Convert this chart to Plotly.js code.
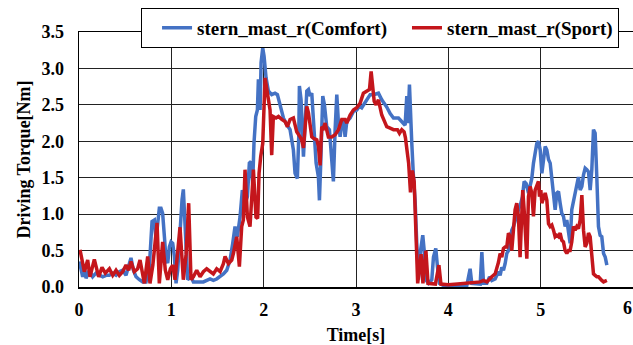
<!DOCTYPE html>
<html>
<head>
<meta charset="utf-8">
<script src="https://cdn.plot.ly/plotly-3.0.1.min.js"></script>
<style>html,body{margin:0;padding:0;background:#fff;}#chart{width:633px;height:345px;}</style>
</head>
<body>
<div id="chart"></div>
<script>
// Time axis ticks
var xTicks = [0, 1, 2, 3, 4, 5, 6];
var yTicks = [0.0, 0.5, 1.0, 1.5, 2.0, 2.5, 3.0, 3.5];
var yTickText = ["0.0", "0.5", "1.0", "1.5", "2.0", "2.5", "3.0", "3.5"];

var comfortName = "stern_mast_r(Comfort)";
var sportName = "stern_mast_r(Sport)";

// stern_mast_r (Comfort) - time [s]
var comfortT = [0.004,0.022,0.040,0.058,0.076,0.112,0.148,0.184,0.220,0.257,0.293,0.329,0.365,0.401,0.437,0.473,0.509,0.538,0.563,0.589,0.618,0.654,0.690,0.726,0.762,0.791,0.816,0.834,0.852,0.870,0.888,0.906,0.925,0.943,0.961,0.979,0.997,1.015,1.033,1.051,1.069,1.094,1.116,1.130,1.145,1.159,1.177,1.213,1.239,1.275,1.347,1.419,1.455,1.491,1.528,1.564,1.600,1.636,1.665,1.690,1.715,1.744,1.769,1.798,1.824,1.845,1.863,1.881,1.895,1.914,1.932,1.943,1.961,1.972,1.990,2.004,2.026,2.051,2.087,2.123,2.149,2.178,2.214,2.250,2.286,2.322,2.340,2.365,2.380,2.387,2.405,2.431,2.449,2.467,2.485,2.503,2.521,2.539,2.568,2.593,2.604,2.618,2.640,2.658,2.683,2.712,2.737,2.755,2.774,2.792,2.810,2.828,2.846,2.864,2.882,2.900,2.936,2.972,3.008,3.037,3.062,3.080,3.117,3.153,3.189,3.243,3.279,3.297,3.333,3.370,3.406,3.460,3.496,3.532,3.550,3.562,3.579,3.593,3.604,3.622,3.640,3.658,3.676,3.700,3.723,3.738,3.760,3.785,3.821,3.839,3.864,3.882,3.904,3.948,4.000,4.100,4.200,4.236,4.254,4.345,4.363,4.381,4.417,4.446,4.471,4.507,4.543,4.561,4.579,4.597,4.615,4.633,4.651,4.669,4.687,4.705,4.723,4.741,4.759,4.785,4.803,4.821,4.843,4.868,4.886,4.904,4.922,4.940,4.958,4.976,4.995,5.013,5.031,5.049,5.067,5.085,5.103,5.121,5.139,5.157,5.175,5.193,5.211,5.229,5.247,5.265,5.283,5.301,5.319,5.337,5.355,5.373,5.391,5.409,5.428,5.446,5.464,5.482,5.500,5.518,5.536,5.554,5.572,5.590,5.608,5.626,5.644,5.662,5.681,5.699,5.717];
// stern_mast_r (Comfort) - driving torque [Nm]
var comfortV = [0.35,0.23,0.14,0.28,0.12,0.23,0.14,0.19,0.16,0.14,0.16,0.16,0.19,0.16,0.21,0.23,0.16,0.28,0.40,0.23,0.14,0.10,0.07,0.07,0.28,0.90,0.92,0.65,0.88,1.08,1.08,1.01,0.69,0.37,0.33,0.55,0.62,0.60,0.42,0.05,0.23,0.78,1.20,1.34,0.92,0.42,0.10,0.14,0.07,0.07,0.07,0.11,0.09,0.11,0.14,0.18,0.23,0.37,0.60,0.83,0.69,0.96,1.33,1.15,1.24,1.70,1.72,1.42,1.97,2.34,2.43,2.85,2.43,3.08,3.28,3.17,2.87,2.69,2.64,2.66,2.64,2.48,2.32,2.23,2.16,1.88,1.56,1.49,2.06,2.76,2.57,1.79,2.25,2.69,2.71,2.62,2.66,2.20,1.70,1.51,1.19,1.70,2.62,2.50,2.20,2.16,1.79,1.45,2.16,2.64,2.25,2.06,2.25,2.30,2.06,2.27,2.32,2.41,2.43,2.48,2.46,2.50,2.57,2.64,2.64,2.66,2.57,2.54,2.47,2.38,2.32,2.32,2.27,2.22,2.62,2.25,2.78,2.20,1.98,1.52,1.19,0.60,0.10,0.51,0.71,0.51,0.09,0.05,0.10,0.41,0.53,0.28,0.05,0.02,0.01,0.01,0.02,0.25,0.05,0.04,0.48,0.05,0.05,0.14,0.09,0.11,0.21,0.16,0.27,0.23,0.32,0.46,0.50,0.64,0.78,0.83,0.92,0.97,1.06,1.15,1.24,1.45,1.42,1.29,1.38,1.49,1.70,1.81,1.97,2.00,1.88,1.56,1.75,1.93,1.88,1.75,1.70,1.47,1.19,1.06,1.29,1.31,1.15,1.01,0.97,0.83,0.92,0.74,0.60,1.06,1.19,1.29,1.42,1.51,1.33,1.38,1.54,1.63,1.61,1.58,1.33,1.61,2.16,2.11,1.51,0.83,0.71,0.69,0.46,0.41,0.30];

// stern_mast_r (Sport) - time [s]
var sportT = [0.011,0.058,0.094,0.119,0.166,0.213,0.249,0.285,0.329,0.365,0.401,0.437,0.473,0.509,0.538,0.563,0.599,0.635,0.661,0.690,0.708,0.744,0.769,0.800,0.845,0.870,0.906,0.935,0.961,0.990,1.015,1.040,1.094,1.130,1.160,1.188,1.213,1.239,1.275,1.311,1.347,1.383,1.419,1.455,1.491,1.528,1.564,1.582,1.618,1.654,1.672,1.708,1.737,1.762,1.780,1.798,1.824,1.852,1.889,1.917,1.935,1.950,1.968,1.990,2.015,2.040,2.069,2.087,2.105,2.134,2.160,2.196,2.232,2.257,2.286,2.322,2.358,2.394,2.412,2.431,2.449,2.467,2.485,2.503,2.521,2.539,2.575,2.593,2.611,2.629,2.647,2.665,2.683,2.701,2.737,2.774,2.810,2.846,2.882,2.900,2.936,2.972,3.008,3.044,3.080,3.117,3.146,3.164,3.182,3.197,3.218,3.243,3.279,3.297,3.333,3.370,3.406,3.449,3.471,3.496,3.521,3.535,3.552,3.570,3.590,3.610,3.630,3.650,3.668,3.705,3.725,3.757,3.780,3.860,3.898,3.920,4.000,4.100,4.219,4.345,4.381,4.417,4.471,4.507,4.543,4.561,4.579,4.597,4.615,4.633,4.651,4.669,4.687,4.705,4.723,4.741,4.759,4.777,4.795,4.806,4.821,4.832,4.850,4.868,4.886,4.904,4.922,4.940,4.958,4.976,4.987,5.002,5.013,5.031,5.049,5.067,5.085,5.103,5.121,5.139,5.157,5.175,5.193,5.211,5.229,5.247,5.265,5.283,5.301,5.319,5.337,5.355,5.373,5.391,5.409,5.428,5.446,5.464,5.482,5.500,5.518,5.536,5.554,5.572,5.590,5.608,5.626,5.644,5.662,5.681,5.699,5.717];
// stern_mast_r (Sport) - driving torque [Nm]
var sportV = [0.51,0.21,0.37,0.14,0.38,0.14,0.27,0.19,0.25,0.16,0.23,0.16,0.21,0.30,0.23,0.35,0.21,0.25,0.37,0.14,0.05,0.42,0.05,0.30,0.88,0.05,0.62,0.23,0.10,0.25,0.30,0.10,0.82,0.10,0.45,1.15,0.10,0.14,0.23,0.14,0.21,0.25,0.21,0.18,0.25,0.21,0.32,0.42,0.32,0.37,0.46,0.69,0.28,0.83,0.92,1.61,0.96,0.83,1.61,0.96,0.94,1.56,1.79,1.97,2.87,2.69,2.43,1.81,2.34,2.32,2.34,2.30,2.27,2.20,2.30,2.32,2.13,2.06,2.02,1.91,2.18,2.48,2.39,2.20,2.06,2.04,2.02,1.93,1.67,2.20,2.18,2.25,2.13,2.06,2.06,2.09,2.16,2.30,2.30,2.25,2.36,2.43,2.46,2.52,2.66,2.69,2.71,2.96,2.76,2.55,2.50,2.57,2.36,2.30,2.20,2.18,2.16,2.16,2.11,2.16,2.13,2.05,1.90,1.70,1.30,1.60,1.45,0.80,0.05,0.45,0.05,0.50,0.05,0.04,0.30,0.04,0.03,0.04,0.05,0.07,0.09,0.07,0.14,0.18,0.34,0.46,0.41,0.53,0.55,0.55,0.74,0.69,0.50,0.78,1.06,1.15,0.97,0.41,0.97,1.33,1.06,0.69,0.39,1.24,1.38,1.29,0.97,1.33,1.40,1.45,1.24,1.33,1.15,1.24,1.29,1.19,0.87,0.83,0.85,0.78,0.69,0.71,0.69,0.74,0.64,0.62,0.50,0.46,0.50,0.50,0.62,0.83,0.78,0.83,0.80,0.92,1.26,0.78,0.55,0.60,0.74,0.69,0.41,0.18,0.16,0.14,0.14,0.11,0.09,0.07,0.08,0.09];

var serif = "Liberation Serif";

var traces = [
  {x: comfortT, y: comfortV, name: comfortName, type: 'scatter', mode: 'lines',
   line: {color: '#4472C4', width: 3.5}},
  {x: sportT, y: sportV, name: sportName, type: 'scatter', mode: 'lines',
   line: {color: '#C4161C', width: 3.5}}
];

var layout = {
  width: 633, height: 345,
  margin: {l: 79, r: 0, t: 32, b: 58},
  paper_bgcolor: '#fff', plot_bgcolor: '#fff',
  font: {family: serif, size: 18, color: '#000', weight: 'bold'},
  showlegend: true,
  legend: {
    orientation: 'h', x: 0.112, xanchor: 'left', y: 1.095, yanchor: 'top',
    bgcolor: '#fff', bordercolor: '#000', borderwidth: 1,
    font: {family: serif, size: 19, color: '#000', weight: 'bold'},
    itemwidth: 30, indentation: 15
  },
  xaxis: {
    range: [0, 6], tickvals: xTicks.slice(0, 6), ticktext: xTicks.slice(0, 6).map(String),
    showgrid: true, gridcolor: '#222', gridwidth: 1,
    showline: true, linecolor: '#000', linewidth: 1.5, mirror: true,
    ticks: '', ticklabelstandoff: 6, zeroline: false,
    tickfont: {family: serif, size: 18, color: '#000', weight: 'bold'},
    title: {text: 'Time[s]', font: {family: serif, size: 18, color: '#000', weight: 'bold'}, standoff: 10}
  },
  yaxis: {
    range: [0, 3.5], tickvals: yTicks, ticktext: yTickText,
    showgrid: true, gridcolor: '#222', gridwidth: 1,
    showline: true, linecolor: '#000', linewidth: 1.5,
    ticks: '', ticklabelstandoff: 10, zeroline: false,
    tickfont: {family: serif, size: 18, color: '#000', weight: 'bold'},
    title: {text: 'Driving Torque[Nm]', font: {family: serif, size: 18, color: '#000', weight: 'bold'}, standoff: 6}
  },
  annotations: [{
    x: 6, y: 0, xref: 'x', yref: 'y', text: '<b>' + String(xTicks[6]) + '</b>', showarrow: false,
    xanchor: 'right', yanchor: 'top', yshift: -9, xshift: 1,
    font: {family: serif, size: 18, color: '#000'}
  }]
};

Plotly.newPlot('chart', traces, layout, {displayModeBar: false, staticPlot: true});
</script>
</body>
</html>
